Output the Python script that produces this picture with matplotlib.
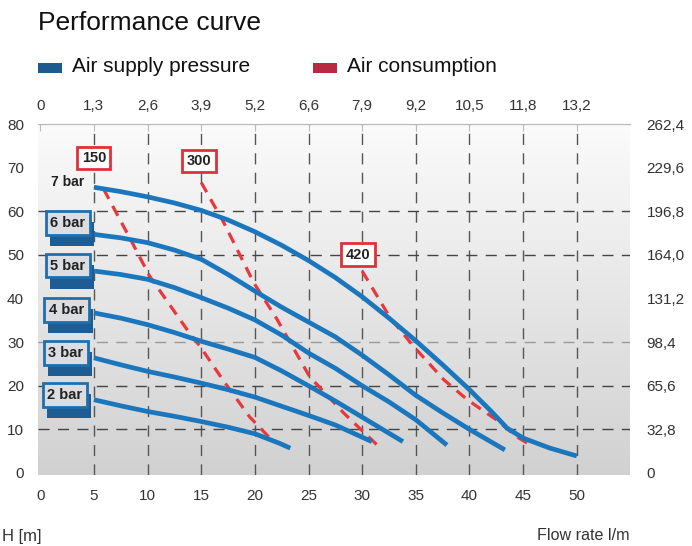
import numpy as np
import matplotlib
matplotlib.use("Agg")
import matplotlib.pyplot as plt
import matplotlib.patheffects as pe
from matplotlib.patches import Rectangle

plt.rcParams['font.family'] = ['Liberation Sans', 'DejaVu Sans']

# --- data (flow l/min, head m) ---
bar7_x = [5, 7.5, 10, 12.5, 15, 17.5, 20, 22.5, 25, 27.5, 30, 32.5, 35, 37.5, 40, 42, 43.5, 45, 47.5, 50]
bar7_y = [65.5, 64.5, 63.3, 61.9, 60.2, 58, 55.3, 52.2, 48.7, 44.8, 40.4, 35.5, 30.3, 24.8, 19.1, 14.2, 10.3, 8.0, 5.7, 3.9]
bar6_x = [5, 7.5, 10, 12.5, 15, 17.5, 20, 22.5, 25, 27.5, 30, 32.5, 35, 37.5, 40, 43.3]
bar6_y = [54.7, 53.9, 52.8, 51.1, 49, 45.5, 41.7, 38, 34.6, 31.2, 27, 22.5, 17.8, 13.8, 10, 5.3]
bar5_x = [5, 7.5, 10, 12.5, 15, 17.5, 20, 22.5, 25, 27.5, 30, 32.5, 35, 37.9]
bar5_y = [46.3, 45.5, 44.4, 42.5, 40.2, 37.8, 35.1, 31.6, 27.5, 24, 20, 16.3, 12.2, 6.4]
bar4_x = [5, 7.5, 10, 12.5, 15, 17.5, 20, 22.5, 25, 27.5, 30, 33.8]
bar4_y = [36.7, 35.5, 34, 32.2, 30.2, 28.4, 26.5, 23.4, 20, 16.5, 12.8, 7.2]
bar3_x = [5, 7.5, 10, 12.5, 15, 17.5, 20, 22.5, 25, 27.5, 30.9]
bar3_y = [26.4, 24.8, 23.3, 22, 20.6, 19.1, 17.4, 15.3, 13.2, 11, 7.2]
bar2_x = [5, 7.5, 10, 12.5, 15, 17.5, 20, 22.3, 23.3]
bar2_y = [16.8, 15.4, 14.1, 13, 11.8, 10.5, 9.0, 6.8, 5.7]

air150_x = [5.9, 8.4, 10.2, 12.7, 13.9, 14.9, 17, 19.5, 21.4]
air150_y = [65.1, 53.6, 45.1, 36.3, 32.1, 29, 21.4, 12.9, 8]
air300_x = [15, 17.1, 19.9, 22, 25.1, 28.3, 31.4]
air300_y = [66.6, 57.4, 43.6, 35.5, 22.1, 13.7, 6.4]
air420_x = [30, 32.6, 34.8, 37.6, 39.8, 42.5, 44.4, 46]
air420_y = [46.3, 35.6, 29, 21.4, 16.8, 12.2, 8.3, 6]

curves = [(bar7_x, bar7_y), (bar6_x, bar6_y), (bar5_x, bar5_y),
          (bar4_x, bar4_y), (bar3_x, bar3_y), (bar2_x, bar2_y)]
bar_labels = ['7 bar', '6 bar', '5 bar', '4 bar', '3 bar', '2 bar']
air = [(air150_x, air150_y), (air300_x, air300_y), (air420_x, air420_y)]
air_labels = ['150', '300', '420']

x_ticks = [0, 5, 10, 15, 20, 25, 30, 35, 40, 45, 50]
top_labels = ['0', '1,3', '2,6', '3,9', '5,2', '6,6', '7,9', '9,2', '10,5', '11,8', '13,2']
y_ticks = [0, 10, 20, 30, 40, 50, 60, 70, 80]
right_labels = ['0', '32,8', '65,6', '98,4', '131,2', '164,0', '196,8', '229,6', '262,4']

BLUE = '#1b77bd'
RED = '#e8383d'

fig = plt.figure(figsize=(6.92, 5.46), dpi=100)
ax = fig.add_axes([38 / 692, 1 - 475 / 546, 592 / 692, 351 / 546])
xlim = (-0.21, 54.96)
ylim = (-0.46, 80)
ax.set_xlim(*xlim)
ax.set_ylim(*ylim)

# gradient background
grad = np.linspace(0, 1, 256).reshape(-1, 1)
ax.imshow(grad, extent=[xlim[0], xlim[1], ylim[0], ylim[1]], aspect='auto',
          cmap=matplotlib.colors.LinearSegmentedColormap.from_list('g', ['#d1d1d1', '#fbfbfb']),
          origin='lower', zorder=0)

for s in ['left', 'right', 'bottom']:
    ax.spines[s].set_visible(False)
ax.spines['top'].set_color('#bbbbbb')

# grid
for xv in x_ticks[1:]:
    ax.axvline(xv, color='#555555', lw=1, dashes=(8, 6), zorder=1)
for yv in [10, 20, 50, 60]:
    ax.axhline(yv, color='#444444', lw=1, dashes=(8, 6), zorder=1)
ax.axhline(30, color='#999999', lw=1, dashes=(8, 6), zorder=1)

# curves
for (xs, ys) in air:
    ax.plot(xs, ys, color=RED, lw=2.3, dashes=(3.5, 2.5), zorder=3)
for (xs, ys) in curves:
    ax.plot(xs, ys, color=BLUE, lw=3.4, solid_capstyle='butt', solid_joinstyle='round', zorder=4)

# air consumption labels
air_pos = [(5.0, 72.2), (14.8, 71.5), (29.6, 50.0)]
for lab, (px, py) in zip(air_labels, air_pos):
    ax.text(px, py, lab, ha='center', va='center', fontsize=10.5, fontweight='bold', color='#222222',
            bbox=dict(boxstyle='square,pad=0.3', fc='white', ec='#e0303a', lw=2), zorder=6)

# bar labels (boxes with a 3D-like shadow)
ax.text(2.53, 66.7, bar_labels[0], ha='center', va='center', fontsize=10,
        fontweight='bold', color='#222222', zorder=6)
bar_pos = [(2.58, 57.3), (2.58, 47.5), (2.44, 37.4), (2.39, 27.5), (2.30, 17.9)]
for lab, (px, py) in zip(bar_labels[1:], bar_pos):
    t = ax.text(px, py, lab, ha='center', va='center', fontsize=10.5, fontweight='bold', color='#222222',
                bbox=dict(boxstyle='square,pad=0.32', fc='#dcdde0', ec='#1f6fad', lw=2), zorder=6)
    t.get_bbox_patch().set_path_effects([
        pe.SimplePatchShadow(offset=(3, -8), shadow_rgbFace='#1d5d93', alpha=1.0),
        pe.Normal()])

# ticks
ax.set_xticks(x_ticks)
ax.set_xticklabels([str(v) for v in x_ticks])
ax.set_yticks(y_ticks)
ax.set_yticklabels([str(v) for v in y_ticks])
ax.tick_params(axis='x', length=0, pad=10, labelsize=11, labelcolor='#333333')
ax.tick_params(axis='y', length=0, pad=10, labelsize=11, labelcolor='#333333')

axt = ax.twiny()
axt.set_xlim(*xlim)
axt.set_xticks(x_ticks)
axt.set_xticklabels(top_labels)
axt.tick_params(axis='x', direction='in', length=5, color='#bbbbbb', pad=8,
                labelsize=11, labelcolor='#333333')

axr = ax.twinx()
axr.set_ylim(*ylim)
axr.set_yticks(y_ticks)
axr.set_yticklabels(right_labels)
axr.tick_params(axis='y', length=0, pad=12, labelsize=11, labelcolor='#333333')
for a in (axt, axr):
    for s in a.spines.values():
        s.set_visible(False)
axt.spines['top'].set_visible(True)
axt.spines['top'].set_color('#bbbbbb')

# title & legend
fig.text(38 / 692, 1 - 23 / 546, 'Performance curve', fontsize=19, va='center', ha='left', color='#111111')
fig.patches.append(Rectangle((38 / 692, 1 - 73 / 546), 24 / 692, 10 / 546,
                             transform=fig.transFigure, fc='#1c5b8e', ec='none'))
fig.text(72 / 692, 1 - 67 / 546, 'Air supply pressure', fontsize=15, va='center', ha='left', color='#111111')
fig.patches.append(Rectangle((313 / 692, 1 - 73 / 546), 24 / 692, 10 / 546,
                             transform=fig.transFigure, fc='#b72a42', ec='none'))
fig.text(347 / 692, 1 - 67 / 546, 'Air consumption', fontsize=15, va='center', ha='left', color='#111111')

fig.text(2 / 692, 1 - 536 / 546, 'H [m]', fontsize=12, va='center', ha='left', color='#333333')
fig.text(630 / 692, 1 - 536 / 546, 'Flow rate l/m', fontsize=11.6, va='center', ha='right', color='#333333')

fig.savefig('out.png', dpi=100)
